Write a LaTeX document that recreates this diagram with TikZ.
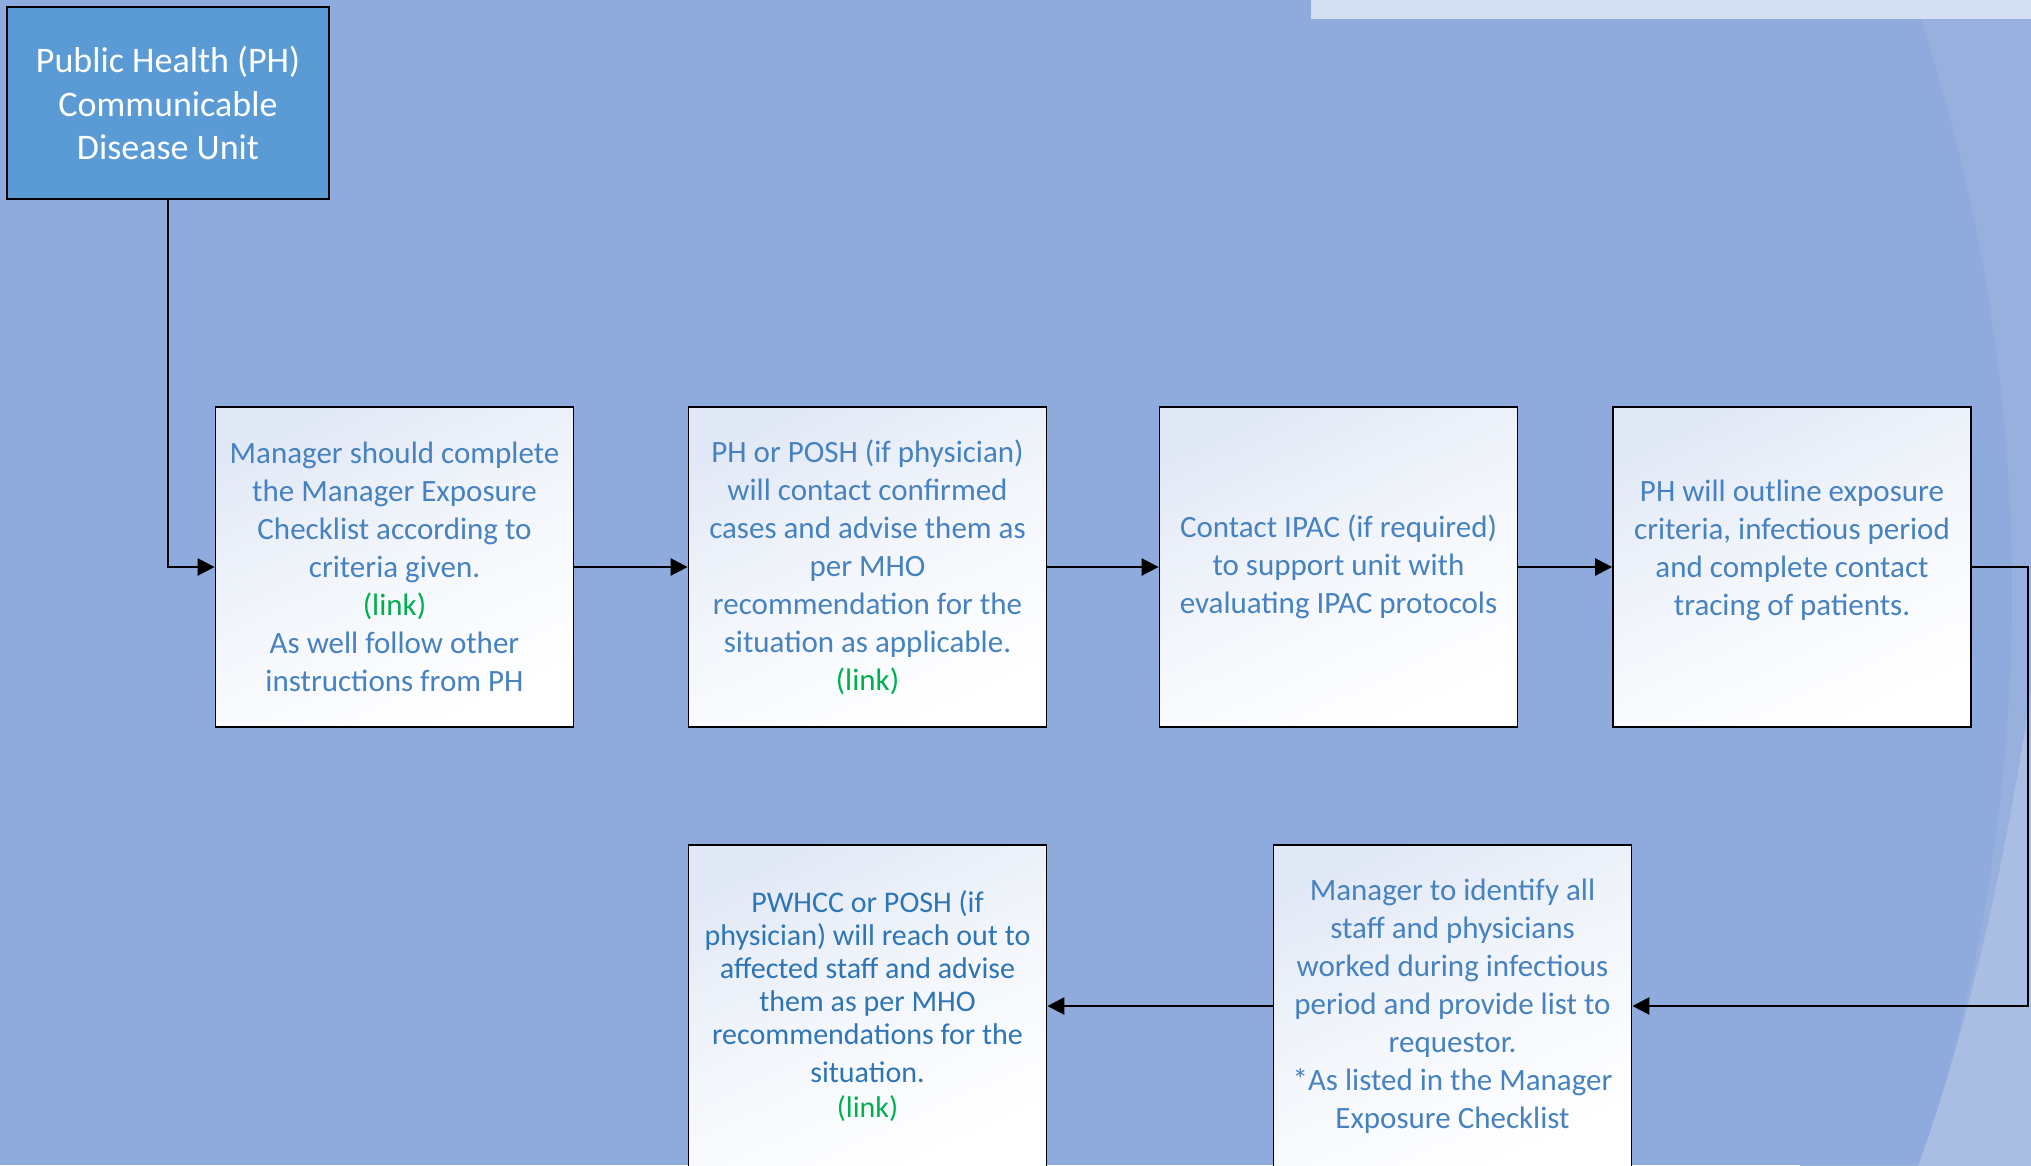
\documentclass[tikz,border=0pt]{standalone}
\usepackage{fontspec}
\setmainfont{Carlito}
\usetikzlibrary{arrows.meta}

\definecolor{slide}{RGB}{143,170,220}
\definecolor{slidelight}{RGB}{151,176,222}
\definecolor{slidepale}{RGB}{170,190,228}
\definecolor{banner}{RGB}{211,222,241}
\definecolor{headfill}{RGB}{91,155,213}
\definecolor{boxtop}{RGB}{226,233,246}
\definecolor{boxtext}{RGB}{70,130,192}
\definecolor{boxtextdark}{RGB}{46,117,182}
\definecolor{linkgreen}{RGB}{0,176,80}

\begin{document}
\begin{tikzpicture}[x=1pt,y=-1pt,
    headbox/.style={draw=black,line width=1.2pt,fill=headfill,text=white,align=center,
      minimum width=322pt,minimum height=192pt,inner sep=0pt,font=\fontsize{36}{43.5}\selectfont},
    stepbox/.style={draw=black,line width=1.8pt,top color=boxtop,bottom color=white,middle color=white!60!boxtop,
      shading angle=25,text=boxtext,align=center,minimum width=358pt,minimum height=320pt,inner sep=0pt,
      font=\fontsize{31}{38}\selectfont},
    flow/.style={line width=2.6pt,-{Triangle[length=17pt,width=17pt]}}]

    \useasboundingbox (0,0) rectangle (2031,1165);
    \clip (0,0) rectangle (2031,1165);

    \fill[slide] (0,0) rectangle (2031,1165);
    \begin{scope}
      \clip (1800,0) rectangle (2031,1165);
      \fill[slidelight,even odd rule] (1800,0) rectangle (2031,1165) (182,592) circle (1830);
    \end{scope}
    \fill[slidepale] (2031,690) .. controls (2000,900) and (1960,1050) .. (1915,1175) -- (2031,1175) -- cycle;
    \fill[banner] (1311,0) rectangle (2031,19);

    \node[headbox] (ph) at (168,103) {Public Health (PH)\\Communicable\\Disease Unit};

    \node[stepbox] (s1) at (394.5,567) {Manager should complete\\the Manager Exposure\\Checklist according to\\criteria given.\\\textcolor{linkgreen}{(link)}\\As well follow other\\instructions from PH};
    \node[stepbox] (s2) at (867.5,567) {PH or POSH (if physician)\\will contact confirmed\\cases and advise them as\\per MHO\\recommendation for the\\situation as applicable.\\\textcolor{linkgreen}{(link)}};
    \node[stepbox] (s3) at (1338.5,567) {Contact IPAC (if required)\\to support unit with\\evaluating IPAC protocols};
    \node[stepbox] (s4) at (1792,567) {PH will outline exposure\\criteria, infectious period\\and complete contact\\tracing of patients.\\\mbox{}};

    \node[stepbox,minimum height=322pt,text=boxtextdark,font=\fontsize{30}{33}\selectfont] (s5) at (867.5,1006) {PWHCC or POSH (if\\physician) will reach out to\\affected staff and advise\\them as per MHO\\recommendations for the\\[5pt]situation.\\[2pt]\textcolor{linkgreen}{(link)}};
    \node[stepbox,minimum height=322pt] (s6) at (1452.5,1006) {Manager to identify all\\staff and physicians\\worked during infectious\\period and provide list to\\requestor.\\*As listed in the Manager\\Exposure Checklist};

    \coordinate (turn) at (2028,567);

    \draw[flow] (ph.south) |- (s1.west);
    \draw[flow] (s1) -- (s2);
    \draw[flow] (s2) -- (s3);
    \draw[flow] (s3) -- (s4);
    \draw[flow] (s4.east) -- (turn) |- (s6.east);
    \draw[flow] (s6) -- (s5);
\end{tikzpicture}
\end{document}
